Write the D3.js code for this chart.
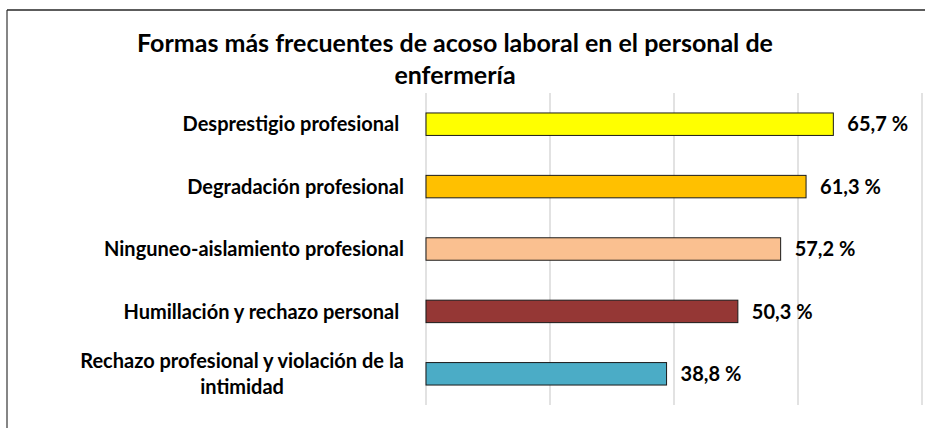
<!DOCTYPE html>
<html>
<head>
<meta charset="utf-8">
<script src="https://cdn.jsdelivr.net/npm/d3@7"></script>
<style>
  body { margin: 0; background: #fff; }
  svg { display: block; font-family: Lato, "Open Sans", sans-serif; font-weight: bold; }
</style>
</head>
<body>
<svg width="925" height="428"></svg>
<script>
// datos
var titleLines = ["Formas más frecuentes de acoso laboral en el personal de", "enfermería"]
var categories = [
  "Desprestigio profesional ",
  "Degradación profesional",
  "Ninguneo-aislamiento profesional",
  "Humillación y rechazo personal ",
  "Rechazo profesional y violación de la\nintimidad"
]
var values = [65.7, 61.3, 57.2, 50.3, 38.8]
var colors = ["#FFFF00", "#FFC000", "#FAC090", "#953735", "#4BACC6"]
var ticks = [0, 20, 40, 60, 80]

var svg = d3.select("svg")

// marco
svg.append("line").attr("x1", 7).attr("x2", 7).attr("y1", 10).attr("y2", 428)
  .attr("stroke", "#868686").attr("stroke-width", 2)
svg.append("line").attr("x1", 7).attr("x2", 925).attr("y1", 10).attr("y2", 10)
  .attr("stroke", "#262626").attr("stroke-width", 1.5)

// titulo
svg.selectAll(".title").data(titleLines).enter().append("text")
  .attr("x", 455).attr("y", function(d, i) { return 52 + i * 31.5 })
  .attr("text-anchor", "middle")
  .attr("font-size", 25)
  .attr("fill", "#000")
  .text(function(d) { return d })

var x = d3.scaleLinear().domain([0, 80]).range([426, 922])
var y = d3.scaleBand().domain(d3.range(categories.length)).range([93, 405])
  .paddingInner(0.64).paddingOuter(0.32)

// lineas de cuadricula
svg.append("g").selectAll("line").data(ticks).enter().append("line")
  .attr("x1", function(d) { return x(d) }).attr("x2", function(d) { return x(d) })
  .attr("y1", 93).attr("y2", 405)
  .attr("stroke", "#d9d9d9").attr("stroke-width", 1.5)

// barras
svg.append("g").selectAll("rect").data(values).enter().append("rect")
  .attr("x", x(0))
  .attr("y", function(d, i) { return y(i) })
  .attr("width", function(d) { return x(d) - x(0) })
  .attr("height", y.bandwidth())
  .attr("fill", function(d, i) { return colors[i] })
  .attr("stroke", "#1a1a1a").attr("stroke-width", 1)

var fmt = d3.format(".1f")
svg.append("g").selectAll("text").data(values).enter().append("text")
  .attr("x", function(d) { return x(d) + 14 })
  .attr("y", function(d, i) { return y(i) + y.bandwidth() / 2 })
  .attr("dy", "0.36em")
  .attr("font-size", 20)
  .text(function(d) { return fmt(d).replace(".", ",") + " %" })

// etiquetas de categorias
var labelRight = 404
categories.forEach(function(c, i) {
  var lines = c.split("\n")
  var cy = y(i) + y.bandwidth() / 2
  var g = svg.append("g")
  if (lines.length == 1) {
    g.append("text")
      .attr("x", labelRight).attr("y", cy).attr("dy", "0.36em")
      .attr("text-anchor", "end").attr("font-size", 20)
      .style("white-space", "pre")
      .text(c)
  } else {
    var t = g.selectAll("text").data(lines).enter().append("text")
      .attr("y", function(d, j) { return cy + (j - (lines.length - 1) / 2) * 26 })
      .attr("dy", "0.36em")
      .attr("text-anchor", "middle").attr("font-size", 20)
      .text(function(d) { return d })
    var w = d3.max(t.nodes(), function(n) { return n.getComputedTextLength() })
    t.attr("x", labelRight - w / 2)
  }
})
</script>
</body>
</html>
